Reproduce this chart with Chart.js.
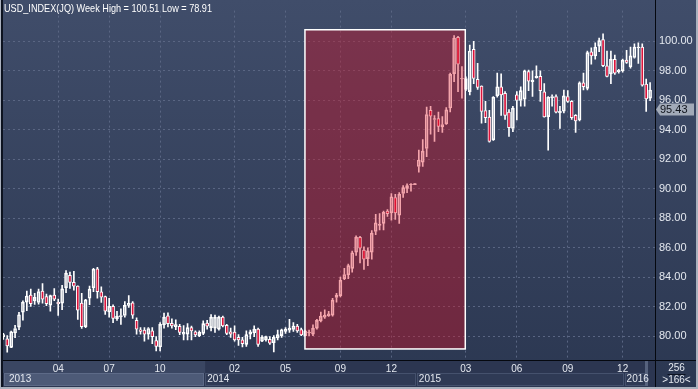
<!DOCTYPE html>
<html>
<head>
<meta charset="utf-8">
<script src="https://cdn.jsdelivr.net/npm/chart.js@4.4.1/dist/chart.umd.min.js"></script>
<style>
  html, body { margin: 0; padding: 0; background: #2e3a55; }
  #chart { display: block; }
</style>
</head>
<body>
<canvas id="chart" width="698" height="389"></canvas>
<script>
// weekly USD index candles (index 0 = first week shown)
const opens = [
  79.95, 79.81, 79.24, 80.21, 80.61, 81.62, 82.31, 82.79, 82.39, 82.28,
  83.06, 82.68, 82.10, 82.79, 82.30, 82.24, 83.28, 84.12, 83.65, 83.39,
  82.24, 80.65, 82.57, 83.28, 84.56, 83.01, 82.68, 81.64, 82.02, 81.18,
  81.30, 81.40, 82.09, 82.26, 81.07, 80.43, 80.41, 80.14, 80.36, 79.70,
  79.26, 80.76, 81.38, 80.87, 80.63, 80.67, 80.14, 80.14, 80.58, 80.30,
  80.03, 80.19, 80.89, 80.58, 80.54, 80.47, 81.29, 80.74, 80.30, 80.28,
  79.92, 79.75, 79.44, 80.14, 80.23, 80.47, 79.66, 79.75, 79.79, 79.55,
  79.88, 80.03, 80.32, 80.41, 80.45, 80.69, 80.45, 80.03, 80.22, 80.14,
  80.54, 81.03, 81.29, 81.38, 81.42, 82.62, 82.75, 83.90, 84.16, 84.60,
  85.70, 86.70, 85.84, 85.26, 85.70, 87.10, 87.52, 87.65, 88.49, 88.36,
  89.41, 88.20, 89.68, 90.03, 90.27, 90.28, 91.51, 91.80, 92.73, 95.33,
  94.70, 94.76, 94.20, 94.40, 95.48, 97.81, 100.27, 97.45, 96.74, 96.59,
  99.46, 97.43, 96.97, 95.31, 94.87, 93.32, 96.30, 96.92, 96.48, 95.20,
  94.09, 96.37, 95.99, 96.08, 97.95, 97.26, 97.54, 97.63, 96.57, 94.89,
  96.17, 96.26, 95.15, 95.26, 96.26, 95.93, 94.98, 94.67, 97.19, 96.81,
  99.30, 99.02, 99.68, 100.12, 98.35, 97.80, 98.78, 97.95, 98.01, 98.73,
  98.28, 98.91, 99.57, 99.61, 97.10, 96.15
];
const highs = [
  80.19, 80.03, 80.34, 80.74, 81.62, 82.39, 83.06, 83.19, 82.90, 83.19,
  83.56, 82.86, 82.79, 83.23, 82.52, 83.45, 84.45, 84.34, 84.40, 83.42,
  82.90, 82.50, 83.39, 84.60, 84.67, 83.34, 82.72, 82.57, 82.13, 81.69,
  81.86, 82.35, 82.75, 82.35, 81.25, 80.58, 80.58, 80.58, 80.58, 79.97,
  80.92, 81.56, 81.58, 81.18, 81.11, 80.80, 80.72, 80.85, 80.69, 80.36,
  80.36, 81.03, 81.07, 81.47, 81.42, 81.36, 81.36, 80.80, 80.54, 80.70,
  80.10, 79.92, 80.36, 80.41, 80.70, 80.54, 80.03, 80.01, 79.97, 80.03,
  80.41, 80.47, 80.58, 81.14, 80.92, 80.80, 80.54, 80.41, 80.41, 80.76,
  81.14, 81.64, 81.78, 81.69, 82.57, 82.90, 84.00, 84.60, 84.89, 85.77,
  86.81, 86.77, 86.06, 85.99, 87.16, 88.27, 88.31, 88.49, 88.58, 89.68,
  89.63, 89.74, 90.21, 90.34, 90.36, 90.37, 92.62, 93.34, 95.55, 95.60,
  94.96, 95.20, 94.89, 95.51, 97.85, 100.40, 100.34, 98.29, 97.59, 99.75,
  100.01, 98.51, 96.99, 95.93, 95.33, 96.26, 97.85, 97.80, 96.59, 95.38,
  95.60, 96.59, 96.92, 98.06, 98.06, 98.01, 98.35, 98.01, 97.14, 96.26,
  96.37, 96.37, 95.60, 96.70, 96.66, 95.99, 95.04, 97.26, 97.85, 99.35,
  99.57, 99.90, 100.23, 100.51, 99.35, 99.35, 99.08, 98.10, 98.80, 99.39,
  99.61, 99.84, 99.90, 99.84, 97.45, 97.20
];
const lows = [
  79.77, 78.91, 79.22, 79.90, 80.43, 81.09, 81.73, 82.02, 82.15, 82.17,
  82.24, 82.06, 81.69, 82.40, 81.40, 81.80, 82.95, 83.23, 83.12, 81.14,
  80.52, 80.58, 82.13, 83.01, 82.57, 82.28, 81.47, 81.29, 80.92, 81.07,
  80.80, 81.29, 81.95, 81.20, 80.14, 80.14, 79.66, 79.79, 79.48, 78.99,
  78.99, 80.54, 80.63, 80.54, 80.43, 80.10, 79.75, 79.75, 79.75, 79.97,
  79.97, 80.10, 80.47, 80.36, 80.25, 80.41, 80.63, 80.10, 79.92, 79.66,
  79.37, 79.26, 79.30, 79.81, 79.97, 79.30, 79.63, 79.66, 79.44, 78.93,
  79.75, 79.92, 80.19, 80.25, 80.32, 80.25, 80.03, 80.01, 80.03, 80.03,
  80.47, 80.96, 81.20, 81.34, 81.36, 82.31, 82.66, 83.83, 83.90, 84.34,
  85.48, 84.96, 84.52, 84.78, 85.22, 86.88, 87.20, 87.20, 88.13, 87.87,
  87.92, 87.65, 89.42, 89.74, 89.83, 90.27, 91.12, 91.51, 92.17, 93.70,
  93.21, 93.87, 93.83, 94.36, 95.22, 97.26, 96.59, 96.15, 96.66, 96.37,
  97.14, 96.74, 94.45, 94.49, 93.17, 93.28, 96.21, 94.98, 94.71, 93.56,
  93.87, 94.67, 95.60, 95.60, 96.66, 96.26, 97.50, 95.93, 94.85, 92.62,
  95.60, 95.15, 94.09, 95.15, 95.86, 94.71, 93.83, 94.60, 96.70, 96.70,
  98.46, 98.80, 99.30, 98.28, 97.59, 97.14, 97.76, 97.85, 97.91, 98.51,
  98.19, 98.86, 98.51, 96.97, 95.24, 95.97
];
const closes = [
  80.10, 79.33, 80.30, 80.52, 81.45, 82.31, 82.72, 82.20, 82.63, 83.03,
  82.50, 82.20, 82.75, 82.50, 82.20, 83.21, 84.27, 83.65, 83.39, 81.76,
  80.65, 82.46, 83.19, 84.54, 83.01, 82.64, 81.69, 82.02, 81.20, 81.36,
  81.40, 82.09, 82.22, 81.42, 80.47, 80.32, 80.14, 80.52, 79.97, 79.30,
  80.80, 81.29, 80.85, 80.70, 80.78, 80.25, 80.25, 80.58, 80.36, 80.08,
  80.25, 80.85, 80.67, 81.29, 81.29, 81.29, 80.69, 80.19, 80.14, 79.75,
  79.75, 79.48, 80.10, 80.30, 80.47, 79.44, 79.92, 79.97, 79.52, 79.92,
  80.10, 80.43, 80.47, 80.54, 80.69, 80.36, 80.08, 80.36, 80.28, 80.54,
  81.07, 81.36, 81.42, 81.51, 82.44, 82.79, 83.79, 84.18, 84.78, 85.66,
  86.72, 85.97, 85.22, 85.79, 86.99, 87.69, 87.58, 88.40, 88.31, 89.46,
  88.36, 89.63, 90.08, 90.21, 90.30, 90.36, 91.95, 92.55, 95.04, 94.92,
  94.76, 94.23, 94.36, 95.35, 97.76, 100.23, 98.46, 97.50, 97.48, 99.35,
  97.48, 96.88, 95.24, 94.83, 93.21, 96.21, 96.92, 96.37, 94.98, 94.14,
  95.47, 95.99, 96.66, 98.01, 97.30, 97.37, 97.63, 96.66, 94.87, 96.21,
  96.26, 95.20, 95.26, 96.30, 95.93, 94.83, 94.60, 97.19, 96.92, 99.24,
  99.02, 99.61, 100.05, 98.35, 97.63, 98.80, 97.85, 98.04, 98.73, 98.58,
  99.02, 99.61, 99.61, 97.03, 96.10, 96.70
];

const monthTicks = [14, 27, 40, 59, 72, 86, 99, 118, 131, 144, 158];
const monthLabels = ['04', '07', '10', '02', '05', '09', '12', '03', '06', '09', '12'];
const yearStarts = [0, 52, 106, 159];
const yearLabels = ['2013', '2014', '2015', '2016'];
const priceTicks = [80, 82, 84, 86, 88, 90, 92, 94, 96, 98, 100];

// marked rally (weeks, price span)
const boxWeeks = [76.95, 117.85];
const boxPrices = [79.13, 100.79];
const lastPrice = 95.43;
const titleText = 'USD_INDEX(JQ) Week High = 100.51 Low = 78.91';

const font = "'Liberation Sans', Arial, sans-serif";
const gridColor = '#5a6683';
const textColor = '#e4e8ef';

const weeks = opens.map((v, i) => i);
const bodies = weeks.map(i => ({ x: i, y: [opens[i], closes[i]] }));
const upperWicks = weeks.map(i => ({ x: i, y: [Math.max(opens[i], closes[i]), highs[i]] }));
const lowerWicks = weeks.map(i => ({ x: i, y: [lows[i], Math.min(opens[i], closes[i])] }));
const bodyFill = weeks.map(i => closes[i] >= opens[i] ? 'rgba(0,0,0,0)' : '#dc143c');

// background, bottom strip
const backdrop = {
  id: 'backdrop',
  beforeDraw(chart) {
    const { ctx, width, height, chartArea, scales: { x } } = chart;
    ctx.save();
    const g = ctx.createLinearGradient(0, 0, 0, height);
    g.addColorStop(0, '#404d6a');
    g.addColorStop(1, '#2b3751');
    ctx.fillStyle = g;
    ctx.fillRect(0, 0, width, height);

    // time strip
    const top = chartArea.bottom + 1;
    ctx.fillStyle = '#2c3651';
    ctx.fillRect(chartArea.left, top, chartArea.right - chartArea.left, height - top);
    const x2014 = x.getPixelForValue(yearStarts[1] - 0.5);
    ctx.fillStyle = '#3a4662';
    ctx.fillRect(chartArea.left, top, x2014 - chartArea.left, 12);
    for (let k = 0; k < yearStarts.length; k++) {
      const a = k === 0 ? chartArea.left + 1 : x.getPixelForValue(yearStarts[k] - 0.5);
      const b = k + 1 < yearStarts.length ? x.getPixelForValue(yearStarts[k + 1] - 0.5) - 2 : chartArea.right - 10;
      ctx.fillStyle = k === 0 ? '#4d5a77' : '#2f3a55';
      ctx.fillRect(a, top + 12, b - a, 13);
      ctx.strokeStyle = k === 0 ? '#5d6a87' : '#45516d';
      ctx.lineWidth = 1;
      ctx.strokeRect(Math.round(a) + 0.5, top + 12.5, Math.round(b - a), 12);
    }
    ctx.fillStyle = '#56627d';
    ctx.fillRect(chartArea.right - 10, top, 3, height - top - 3);
    ctx.restore();
  }
};

const highlight = {
  id: 'highlight',
  afterDatasetsDraw(chart) {
    const { ctx, scales: { x, y } } = chart;
    const l = x.getPixelForValue(boxWeeks[0]);
    const r = x.getPixelForValue(boxWeeks[1]);
    const t = y.getPixelForValue(boxPrices[1]);
    const b = y.getPixelForValue(boxPrices[0]);
    ctx.save();
    ctx.fillStyle = 'rgba(225, 10, 30, 0.37)';
    ctx.fillRect(l, t, r - l, b - t);
    ctx.strokeStyle = '#ffffff';
    ctx.lineWidth = 1.5;
    ctx.strokeRect(l, t, r - l, b - t);
    ctx.restore();
  }
};

const overlay = {
  id: 'overlay',
  afterDraw(chart) {
    const { ctx, width, height, chartArea, scales: { x, y } } = chart;
    ctx.save();
    // title
    ctx.font = '11px ' + font;
    ctx.fillStyle = '#ffffff';
    ctx.textBaseline = 'middle';
    ctx.textAlign = 'left';
    ctx.fillText(titleText, 4, 9, 208);

    // year labels
    ctx.font = '10px ' + font;
    ctx.fillStyle = textColor;
    yearLabels.forEach((lab, k) => {
      const px = k === 0 ? chartArea.left + 6 : x.getPixelForValue(yearStarts[k] - 0.5) + 2;
      ctx.fillText(lab, px, chartArea.bottom + 19.5);
    });

    // separators
    ctx.fillStyle = '#05080f';
    ctx.fillRect(chartArea.right, 0, 1, height);
    ctx.fillRect(chartArea.left, chartArea.bottom, width - chartArea.left, 1);

    // bar count box
    const cx = (chartArea.right + width) / 2;
    ctx.textAlign = 'center';
    ctx.fillStyle = textColor;
    ctx.fillText('256', cx, chartArea.bottom + 8);
    ctx.fillText('>166<', cx, chartArea.bottom + 20);
    ctx.fillStyle = '#0c1220';
    ctx.fillRect(cx - 9, chartArea.bottom + 14, 18, 1);

    // last price tag
    const py = Math.round(y.getPixelForValue(lastPrice)) + 0.5;
    ctx.fillStyle = '#a2aab8';
    ctx.beginPath();
    ctx.moveTo(chartArea.right + 1, py);
    ctx.lineTo(chartArea.right + 5, py - 6);
    ctx.lineTo(width - 4, py - 6);
    ctx.lineTo(width - 4, py + 6);
    ctx.lineTo(chartArea.right + 5, py + 6);
    ctx.closePath();
    ctx.fill();
    ctx.font = '11px ' + font;
    ctx.fillStyle = '#10141c';
    ctx.textAlign = 'left';
    ctx.fillText(lastPrice.toFixed(2), chartArea.right + 5, py);

    // frame
    ctx.fillStyle = '#aab1be';
    ctx.fillRect(0, 0, 1, height);
    ctx.fillRect(0, height - 2, width, 2);
    ctx.fillRect(width - 2, 0, 2, height);
    ctx.fillStyle = '#0d1320';
    ctx.fillRect(1, 0, 2, height - 2);
    ctx.restore();
  }
};

new Chart(document.getElementById('chart'), {
  type: 'bar',
  data: {
    datasets: [
      {
        data: bodies,
        backgroundColor: bodyFill,
        borderColor: '#ffffff',
        borderWidth: 1,
        borderSkipped: false,
        barThickness: 3,
        grouped: false
      },
      {
        data: upperWicks,
        backgroundColor: '#ffffff',
        borderWidth: 0,
        barThickness: 1,
        grouped: false
      },
      {
        data: lowerWicks,
        backgroundColor: '#ffffff',
        borderWidth: 0,
        barThickness: 1,
        grouped: false
      }
    ]
  },
  options: {
    responsive: false,
    animation: false,
    layout: { padding: { left: 3, top: 2, right: 0, bottom: 0 } },
    plugins: { legend: { display: false }, tooltip: { enabled: false } },
    scales: {
      x: {
        type: 'linear',
        min: -0.08,
        max: 166.25,
        offset: false,
        afterFit(s) { s.height = 29; },
        afterBuildTicks(s) { s.ticks = monthTicks.map(v => ({ value: v })); },
        grid: { color: gridColor, drawTicks: false, offset: false },
        border: { display: false, dash: [2, 3] },
        ticks: {
          color: textColor,
          font: { family: font, size: 10 },
          padding: 3,
          maxRotation: 0,
          autoSkip: false,
          callback: v => monthLabels[monthTicks.indexOf(v)]
        }
      },
      y: {
        position: 'right',
        min: 78.38,
        max: 102.09,
        beginAtZero: false,
        afterFit(s) { s.width = 43; },
        afterBuildTicks(s) { s.ticks = priceTicks.map(v => ({ value: v })); },
        grid: { color: gridColor, drawTicks: false },
        border: { display: false, dash: [2, 3] },
        ticks: {
          color: textColor,
          font: { family: font, size: 11 },
          padding: 4,
          callback: v => v.toFixed(2)
        }
      }
    }
  },
  plugins: [backdrop, highlight, overlay]
});
</script>
</body>
</html>
